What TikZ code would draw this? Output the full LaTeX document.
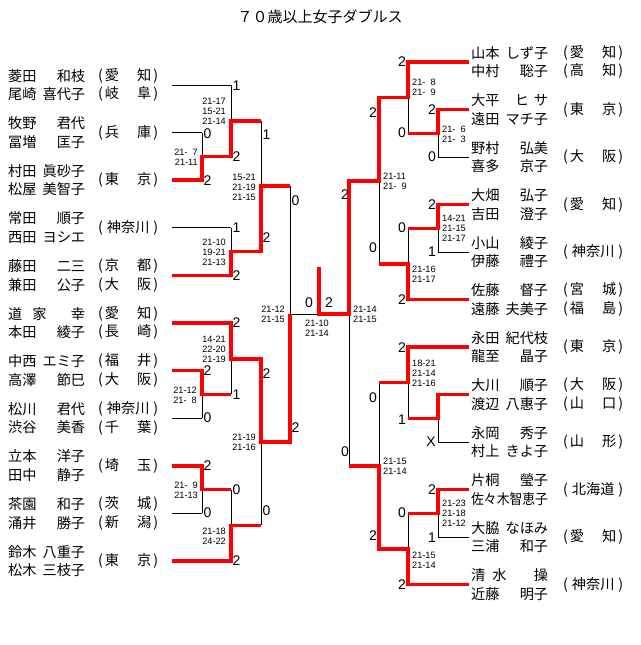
\documentclass[tikz,border=0pt]{standalone}
\usepackage{fontspec}
\usepackage{graphicx}
\setmainfont{Liberation Sans}
\newfontfamily\jp{Noto Sans CJK JP}
\newcommand\nm[2]{\makebox[77pt][s]{#1\hfill#2}}
\newcommand\pfa[2]{\makebox[60pt][s]{(\hspace{2pt}#1\hfill#2\hspace{2pt})}}
\newcommand\pfb[1]{\makebox[60pt][s]{(\hfill#1\hfill)}}
\newcommand\tNL[2]{\node[nm] at (8,#1) {#2};}
\newcommand\tPL[2]{\node[nm] at (98,#1) {#2};}
\newcommand\tNR[2]{\node[nm] at (471,#1) {#2};}
\newcommand\tPR[2]{\node[nm] at (563,#1) {#2};}
\newcommand\lbL[3]{\node[lb,anchor=west] at (#1+1.5,#2) {#3};}
\newcommand\lbR[3]{\node[lb,anchor=east] at (#1-2,#2) {#3};}
\newcommand\scoreL[3]{\node[sc,anchor=east,align=right] at (#1-5,#2) {#3};}
\newcommand\scoreR[3]{\node[sc,anchor=west,align=left] at (#1+4,#2) {#3};}
\newcommand\fsp{\phantom{1}}
\begin{document}
\begin{tikzpicture}[x=1pt,y=-1pt,
  blk/.style={line width=0.9pt,black},
  win/.style={line width=3.6pt,red,line join=miter},
  nm/.style={anchor=west,inner sep=0pt,font=\jp\fontsize{14.2}{14.2}\selectfont},
  lb/.style={inner sep=0pt,font=\fontsize{14}{14}\selectfont},
  sc/.style={inner sep=0pt,font=\fontsize{9.2}{10}\selectfont}]
\useasboundingbox (0,0) rectangle (640,645);
\node[inner sep=0pt,font=\jp\fontsize{15}{15}\selectfont] (title) at (320,17) {７０歳以上女子ダブルス};

% ---------------- left names ----------------
\tNL{85-9.3}{\nm{菱田}{和枝}} \tNL{85+9.3}{\nm{尾崎}{喜代子}}
\tPL{85-9.3}{\pfa{愛}{知}} \tPL{85+9.3}{\pfa{岐}{阜}}
\tNL{132.6-9.3}{\nm{牧野}{君代}} \tNL{132.6+9.3}{\nm{冨増}{匡子}}
\tPL{132.6}{\pfa{兵}{庫}}
\tNL{180.2-9.3}{\nm{村田}{眞砂子}} \tNL{180.2+9.3}{\nm{松屋}{美智子}}
\tPL{180.2}{\pfa{東}{京}}
\tNL{227.8-9.3}{\nm{常田}{順子}} \tNL{227.8+9.3}{\nm{西田}{ヨシエ}}
\tPL{227.8}{\pfb{神奈川}}
\tNL{275.4-9.3}{\nm{藤田}{二三}} \tNL{275.4+9.3}{\nm{兼田}{公子}}
\tPL{275.4-9.3}{\pfa{京}{都}} \tPL{275.4+9.3}{\pfa{大}{阪}}
\tNL{323-9.3}{\makebox[77pt][s]{道\hspace{10pt}家\hfill{}幸}} \tNL{323+9.3}{\nm{本田}{綾子}}
\tPL{323-9.3}{\pfa{愛}{知}} \tPL{323+9.3}{\pfa{長}{崎}}
\tNL{370.6-9.3}{\nm{中西}{エミ子}} \tNL{370.6+9.3}{\nm{高澤}{節巳}}
\tPL{370.6-9.3}{\pfa{福}{井}} \tPL{370.6+9.3}{\pfa{大}{阪}}
\tNL{418.2-9.3}{\nm{松川}{君代}} \tNL{418.2+9.3}{\nm{渋谷}{美香}}
\tPL{418.2-9.3}{\pfb{神奈川}} \tPL{418.2+9.3}{\pfa{千}{葉}}
\tNL{465.8-9.3}{\nm{立本}{洋子}} \tNL{465.8+9.3}{\nm{田中}{静子}}
\tPL{465.8}{\pfa{埼}{玉}}
\tNL{513.4-9.3}{\nm{茶園}{和子}} \tNL{513.4+9.3}{\nm{涌井}{勝子}}
\tPL{513.4-9.3}{\pfa{茨}{城}} \tPL{513.4+9.3}{\pfa{新}{潟}}
\tNL{561-9.3}{\nm{鈴木}{八重子}} \tNL{561+9.3}{\nm{松木}{三枝子}}
\tPL{561}{\pfa{東}{京}}

% ---------------- right names ----------------
\tNR{62-9.3}{\nm{山本}{しず子}} \tNR{62+9.3}{\nm{中村}{聡子}}
\tPR{62-9.3}{\pfa{愛}{知}} \tPR{62+9.3}{\pfa{高}{知}}
\tNR{109.5-9.3}{\makebox[77pt][s]{大平\hfill{}ヒ\hspace{5pt}サ}} \tNR{109.5+9.3}{\nm{遠田}{マチ子}}
\tPR{109.5}{\pfa{東}{京}}
\tNR{157-9.3}{\nm{野村}{弘美}} \tNR{157+9.3}{\nm{喜多}{京子}}
\tPR{157}{\pfa{大}{阪}}
\tNR{204.5-9.3}{\nm{大畑}{弘子}} \tNR{204.5+9.3}{\nm{吉田}{澄子}}
\tPR{204.5}{\pfa{愛}{知}}
\tNR{252-9.3}{\nm{小山}{綾子}} \tNR{252+9.3}{\nm{伊藤}{禮子}}
\tPR{252}{\pfb{神奈川}}
\tNR{299.5-9.3}{\nm{佐藤}{督子}} \tNR{299.5+9.3}{\nm{遠藤}{夫美子}}
\tPR{299.5-9.3}{\pfa{宮}{城}} \tPR{299.5+9.3}{\pfa{福}{島}}
\tNR{347-9.3}{\nm{永田}{紀代枝}} \tNR{347+9.3}{\nm{龍至}{晶子}}
\tPR{347}{\pfa{東}{京}}
\tNR{394.5-9.3}{\nm{大川}{順子}} \tNR{394.5+9.3}{\nm{渡辺}{八惠子}}
\tPR{394.5-9.3}{\pfa{大}{阪}} \tPR{394.5+9.3}{\pfa{山}{口}}
\tNR{442-9.3}{\nm{永岡}{秀子}} \tNR{442+9.3}{\nm{村上}{きよ子}}
\tPR{442}{\pfa{山}{形}}
\tNR{489.5-9.3}{\nm{片桐}{瑩子}} \tNR{489.5+9.3}{\makebox[77pt][s]{\scalebox{0.9}[1]{佐々木智恵子}}}
\tPR{489.5}{\pfb{北海道}}
\tNR{537-9.3}{\nm{大脇}{なほみ}} \tNR{537+9.3}{\nm{三浦}{和子}}
\tPR{537}{\pfa{愛}{知}}
\tNR{584.5-9.3}{\makebox[77pt][s]{清\hspace{7pt}水\hfill{}操}} \tNR{584.5+9.3}{\nm{近藤}{明子}}
\tPR{584.5}{\pfb{神奈川}}

% ---------------- black lines ----------------
\draw[blk] (172,85)--(231,85);
\draw[blk] (172,132.6)--(202,132.6);
\draw[blk] (172,227.8)--(231,227.8);
\draw[blk] (172,418.2)--(202,418.2);
\draw[blk] (172,513.4)--(202,513.4);
\draw[blk] (202,132.6)--(202,180.2);
\draw[blk] (231,85)--(231,156.4);
\draw[blk] (231,227.8)--(231,275.4);
\draw[blk] (261,120.7)--(261,251.6);
\draw[blk] (202,370.6)--(202,418.2);
\draw[blk] (231,323)--(231,394.4);
\draw[blk] (202,465.8)--(202,513.4);
\draw[blk] (231,489.6)--(231,561);
\draw[blk] (261,358.7)--(261,525.3);
\draw[blk] (290,186.2)--(290,442);
\draw[blk] (290,314)--(349,314);
\draw[blk] (349,180.8)--(349,465.8);
\draw[blk] (438,157)--(469,157);
\draw[blk] (438,252)--(469,252);
\draw[blk] (438,442)--(469,442);
\draw[blk] (438,537)--(469,537);
\draw[blk] (438,109.5)--(438,157);
\draw[blk] (408,62)--(408,133.3);
\draw[blk] (438,204.5)--(438,252);
\draw[blk] (408,228.3)--(408,299.5);
\draw[blk] (379,97.6)--(379,263.9);
\draw[blk] (438,394.5)--(438,442);
\draw[blk] (408,347)--(408,418.3);
\draw[blk] (438,489.5)--(438,537);
\draw[blk] (408,513.3)--(408,584.5);
\draw[blk] (379,382.6)--(379,548.9);

% ---------------- red winning paths ----------------
\draw[win] (172,180.2)--(202,180.2)--(202,156.4)--(231,156.4)--(231,120.7)--(261,120.7);
\draw[win] (172,275.4)--(231,275.4)--(231,251.6)--(261,251.6)--(261,186.2)--(290,186.2);
\draw[win] (172,323)--(231,323)--(231,358.7)--(261,358.7)--(261,442)--(290,442)--(290,314);
\draw[win] (172,370.6)--(202,370.6)--(202,394.4)--(231,394.4);
\draw[win] (172,465.8)--(202,465.8)--(202,489.6)--(231,489.6);
\draw[win] (172,561)--(231,561)--(231,525.3)--(261,525.3);
\draw[win] (319,267)--(319,314)--(349,314)--(349,180.8)--(379,180.8)--(379,97.6)--(408,97.6)--(408,62)--(469,62);
\draw[win] (469,109.5)--(438,109.5)--(438,133.3)--(408,133.3);
\draw[win] (469,204.5)--(438,204.5)--(438,228.3)--(408,228.3);
\draw[win] (469,299.5)--(408,299.5)--(408,263.9)--(379,263.9);
\draw[win] (469,347)--(408,347)--(408,382.6)--(379,382.6);
\draw[win] (469,394.5)--(438,394.5)--(438,418.3)--(408,418.3);
\draw[win] (469,489.5)--(438,489.5)--(438,513.3)--(408,513.3);
\draw[win] (469,584.5)--(408,584.5)--(408,548.9)--(379,548.9)--(379,465.8)--(349,465.8);

% ---------------- game counts ----------------
\lbL{202}{133.5}{0} \lbL{202}{180.5}{2}
\lbL{231}{86}{1} \lbL{231}{157}{2}
\lbL{261}{135}{1}
\lbL{231}{228}{1} \lbL{231}{276}{2}
\lbL{261}{238}{2}
\lbL{290}{201}{0}
\lbL{231}{323}{2}
\lbL{202}{371}{2} \lbL{202}{418}{0}
\lbL{231}{395}{1}
\lbL{261}{374}{2}
\lbL{202}{466}{2} \lbL{202}{513}{0}
\lbL{231}{490}{0} \lbL{231}{561}{2}
\lbL{261}{511}{0}
\lbL{290}{428}{2}
\node[lb] (f0) at (309,303) {0};
\node[lb] (f2) at (329,303) {2};
\lbR{438}{110}{2} \lbR{438}{157}{0}
\lbR{408}{62}{2} \lbR{408}{133}{0}
\lbR{438}{205}{2} \lbR{438}{252}{1}
\lbR{408}{228}{0} \lbR{408}{300}{2}
\lbR{379}{113}{2} \lbR{379}{248}{0}
\lbR{438}{442}{X}
\lbR{408}{348}{2} \lbR{408}{420}{1}
\lbR{438}{490}{2} \lbR{438}{538}{1}
\lbR{408}{513}{0} \lbR{408}{585}{2}
\lbR{379}{398}{0} \lbR{379}{536}{2}
\lbR{351}{195}{2} \lbR{351}{452}{0}

% ---------------- game scores ----------------
\scoreL{203}{157.7}{21-\fsp7\\21-11}
\scoreL{231}{111}{21-17\\15-21\\21-14}
\scoreL{231}{252}{21-10\\19-21\\21-13}
\scoreL{261}{187}{15-21\\21-19\\21-15}
\scoreL{202}{395}{21-12\\21-\fsp8}
\scoreL{231}{349.5}{14-21\\22-20\\21-19}
\scoreL{203}{490.3}{21-\fsp9\\21-13}
\scoreL{231}{536}{21-18\\24-22}
\scoreL{261}{442}{21-19\\21-16}
\scoreL{290}{314.6}{21-12\\21-15}
\node[sc,align=center] (fs) at (317,328.5) {21-10\\21-14};
\scoreR{438}{134}{21-\fsp6\\21-\fsp3}
\scoreR{408}{87.5}{21-\fsp8\\21-\fsp9}
\scoreR{438}{228.3}{14-21\\21-15\\21-17}
\scoreR{408}{274.7}{21-16\\21-17}
\scoreR{379}{181}{21-11\\21-\fsp9}
\scoreR{408}{373.3}{18-21\\21-14\\21-16}
\scoreR{438}{513.5}{21-23\\21-18\\21-12}
\scoreR{408}{560}{21-15\\21-14}
\scoreR{379}{466.3}{21-15\\21-14}
\scoreR{349}{314.6}{21-14\\21-15}
\end{tikzpicture}
\end{document}
